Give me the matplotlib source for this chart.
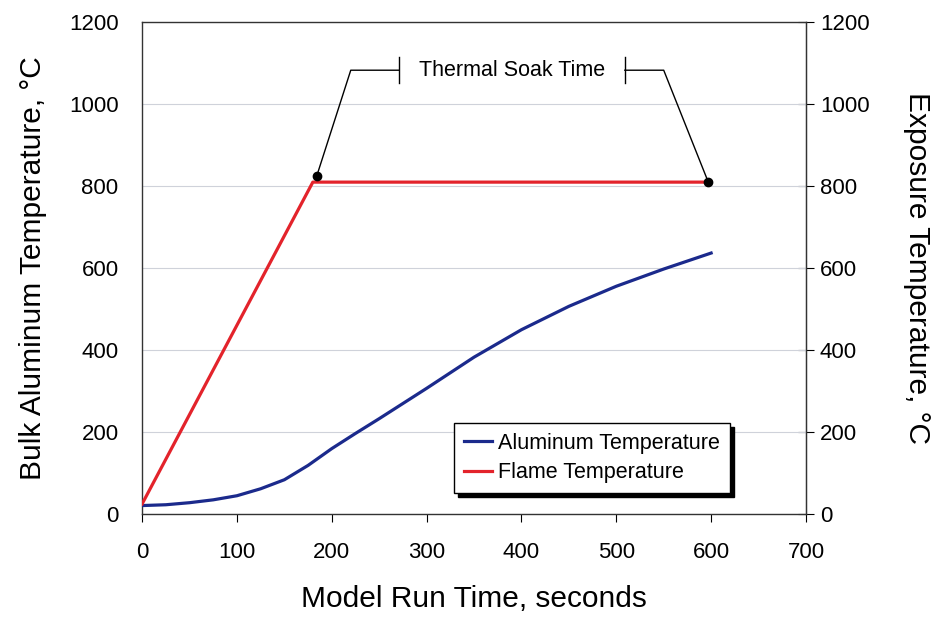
import numpy as np
import matplotlib
matplotlib.use("Agg")
import matplotlib.pyplot as plt

plt.rcParams['font.family'] = ['Liberation Sans', 'DejaVu Sans']

## data
# aluminium bulk temperature (deg C) against run time (s)
alu_time = [0, 25, 50, 75, 100, 125, 150, 175, 200, 225, 250, 275, 300,
            350, 400, 450, 500, 550, 600]
alu_temp = [21, 23, 28, 35, 45, 62, 84, 119, 160, 197, 233, 270, 307,
            383, 450, 507, 556, 598, 637]

# flame (exposure) temperature profile: linear ramp then soak
flame_time = [0, 180, 600]
flame_temp = [25, 810, 810]

# start / end of the soak period
soak_time = [184, 597]
soak_temp = [824, 810]

# bracket for the soak label
bracket_y = 1083
bracket_half = 32
bracket_left = [220, 271]
bracket_right = [509, 550]
label_x = 390

x_ticks = np.arange(0, 701, 100)
y_ticks = np.arange(0, 1201, 200)

## figure
fig = plt.figure(figsize=(9.35, 6.18), dpi=100)
ax = fig.add_axes([0.152, 0.168, 0.71, 0.796])

ax.plot(alu_time, alu_temp, color='#1b2a8c', lw=2.3,
        label='Aluminum Temperature', zorder=3)
ax.plot(flame_time, flame_temp, color='#e3232b', lw=2.3,
        label='Flame Temperature', zorder=3)
ax.plot(soak_time, soak_temp, 'o', color='black', ms=6, zorder=4)

# soak time bracket
ax.plot([soak_time[0], bracket_left[0], bracket_left[1]],
        [soak_temp[0], bracket_y, bracket_y], color='black', lw=1)
ax.plot([bracket_left[1]] * 2,
        [bracket_y - bracket_half, bracket_y + bracket_half],
        color='black', lw=1)
ax.plot([soak_time[1], bracket_right[1], bracket_right[0]],
        [soak_temp[1], bracket_y, bracket_y], color='black', lw=1)
ax.plot([bracket_right[0]] * 2,
        [bracket_y - bracket_half, bracket_y + bracket_half],
        color='black', lw=1)
ax.text(label_x, bracket_y, 'Thermal Soak Time', ha='center', va='center',
        fontsize=15.5)

ax.set_xlim(0, 700)
ax.set_ylim(0, 1200)
ax.set_xticks(x_ticks)
ax.set_yticks(y_ticks)
ax.tick_params(axis='x', direction='out', length=6, width=0.8,
               labelsize=16, pad=14)
ax.tick_params(axis='y', length=0, labelsize=16, pad=17)
ax.grid(axis='y', color='#cfd2da', lw=0.8)
ax.set_axisbelow(True)
for s in ax.spines.values():
    s.set_color('#333333')
    s.set_linewidth(1)

ax.set_xlabel('Model Run Time, seconds', fontsize=21.5, labelpad=16)
ax.set_ylabel('Bulk Aluminum Temperature, °C', fontsize=21.5, labelpad=16)

# secondary axis for exposure temperature
ax2 = ax.twinx()
ax2.set_ylim(0, 1200)
ax2.set_yticks(y_ticks)
ax2.tick_params(axis='y', direction='inout', length=12, width=0.8,
                labelsize=16, pad=4)
ax2.set_ylabel('Exposure Temperature, °C', fontsize=21.5, rotation=270,
               labelpad=44)
for s in ax2.spines.values():
    s.set_visible(False)
ax2.spines['right'].set_visible(True)
ax2.spines['right'].set_color('#333333')

leg = ax.legend(loc='lower left', bbox_to_anchor=(0.47, 0.043),
                borderaxespad=0, fontsize=15.5, frameon=True, fancybox=False,
                edgecolor='black', handlelength=1.3, handletextpad=0.3,
                borderpad=0.45, labelspacing=0.4,
                shadow={'color': 'black', 'alpha': 1.0, 'ox': 3, 'oy': -3})
leg.get_frame().set_linewidth(1)
ax.set_zorder(ax2.get_zorder() + 1)
ax.patch.set_visible(False)

fig.savefig('out.png', dpi=100)
